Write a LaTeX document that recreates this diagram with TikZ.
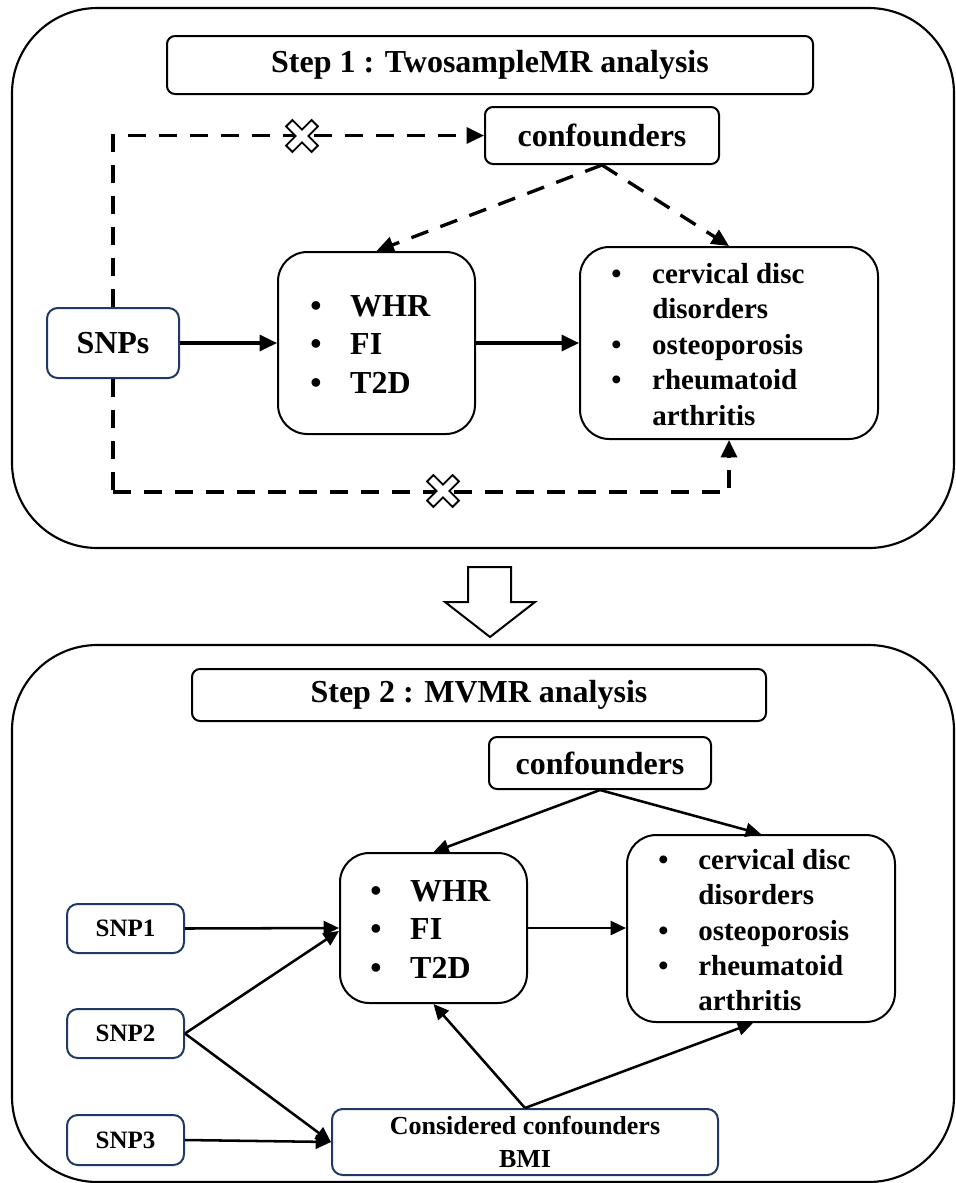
\documentclass[tikz,border=0pt]{standalone}
\usepackage{fontspec}
\setmainfont{Liberation Serif}
\usetikzlibrary{arrows.meta,fit,calc}
\definecolor{navy}{RGB}{31,56,100}
\begin{document}
\begin{tikzpicture}[x=0.75pt,y=-0.75pt,
  panel/.style={draw, line width=1.6pt, rounded corners=64pt},
  tbox/.style={draw, line width=1.5pt, rounded corners=6pt, inner sep=0pt},
  bigbox/.style={draw, line width=1.5pt, rounded corners=22pt, inner sep=0pt},
  snpbox/.style={draw=navy, line width=1.5pt, rounded corners=8pt, inner sep=0pt},
  big/.style={inner sep=0pt, font=\fontsize{24}{28}\selectfont\bfseries},
  small/.style={inner sep=0pt, font=\fontsize{18.75}{22}\selectfont\bfseries},
  listtxt/.style={inner sep=0pt, anchor=west, align=left},
  sarrow/.style={line width=2.4pt, -{Triangle[length=13pt,width=12pt]}},
  darrow/.style={line width=2.5pt, dash pattern=on 13.5pt off 9.75pt, -{Triangle[length=13pt,width=12pt]}},
  dline/.style={line width=2.5pt, dash pattern=on 13.5pt off 9.75pt},
  tarrow/.style={line width=1.9pt, -{Triangle[length=11.5pt,width=10.5pt]}},
  xmark/.pic={\draw[fill=white, line width=1.4pt, rotate=45]
     (4.5,18)--(4.5,4.5)--(18,4.5)--(18,-4.5)--(4.5,-4.5)--(4.5,-18)--(-4.5,-18)--(-4.5,-4.5)--(-18,-4.5)--(-18,4.5)--(-4.5,4.5)--(-4.5,18)--cycle;}
]
\useasboundingbox (0,0) rectangle (956,1183);

% ---------- Panel 1 ----------
\draw[panel] (12,8) rectangle (954,548);
\node[tbox, fit={(167,36)(813,94)}] (title1) {};
\node[big] (title1t) at (title1.center) {Step 1 : TwosampleMR analysis};
\node[tbox, fit={(485,107)(719,164)}] (conf1) {};
\node[big] (conf1t) at (conf1.center) {confounders};
\node[snpbox, fit={(47,308)(179,378)}] (snps) {};
\node[big] (snpst) at (snps.center) {SNPs};
\node[bigbox, fit={(278,252)(475,434)}] (whr1) {};
\node[bigbox, fit={(580,247)(878,439)}] (out1) {};
\node[listtxt, font=\fontsize{24}{28.9}\selectfont\bfseries] (list1) at (310,347)
  {\begin{tabular}{@{}p{30pt}@{}l@{}}•&WHR\\ •&FI\\ •&T2D\end{tabular}};
\node[listtxt, font=\fontsize{21.75}{26.6}\selectfont\bfseries] (list2) at (611,347)
  {\begin{tabular}{@{}p{30.75pt}@{}l@{}}•&cervical disc\\ &disorders\\ •&osteoporosis\\ •&rheumatoid\\ &arthritis\end{tabular}};

\draw[sarrow] (snps.east) -- (whr1.west);
\draw[sarrow] (whr1.east) -- (out1.west);
\draw[darrow] (snps.north) |- (conf1.west);
\draw[darrow] (conf1.south) -- (whr1.north);
\draw[darrow] (conf1.south) -- (out1.north);
\coordinate (bl) at ($(snps.south)+(0,113)$);
\draw[dline] (snps.south) -- (bl);
\draw[darrow] (bl) -| (out1.south);
\pic at (302,136) {xmark};
\pic at (443,491) {xmark};

% ---------- Down arrow ----------
\draw[line width=1.5pt, fill=white] (468,567) -- (511,567) -- (511,602) -- (535,602) -- (490,637) -- (445,602) -- (468,602) -- cycle;

% ---------- Panel 2 ----------
\draw[panel] (12,645) rectangle (954,1182);
\node[tbox, fit={(192,669)(766,721)}] (title2) {};
\node[big] (title2t) at (title2.center) {Step 2 : MVMR analysis};
\node[tbox, fit={(489,737)(711,789)}] (conf2) {};
\node[big] (conf2t) at (conf2.center) {confounders};
\node[bigbox, fit={(340,853)(527,1003)}] (whr2) {};
\node[bigbox, fit={(627,835)(895,1022)}] (out2) {};
\node[listtxt, font=\fontsize{24}{28.9}\selectfont\bfseries] (list3) at (370,932)
  {\begin{tabular}{@{}p{30pt}@{}l@{}}•&WHR\\ •&FI\\ •&T2D\end{tabular}};
\node[listtxt, font=\fontsize{21.75}{26.3}\selectfont\bfseries] (list4) at (658,933)
  {\begin{tabular}{@{}p{30pt}@{}l@{}}•&cervical disc\\ &disorders\\ •&osteoporosis\\ •&rheumatoid\\ &arthritis\end{tabular}};
\node[snpbox, fit={(67,904)(184,953)}] (snp1) {};
\node[small] (snp1t) at (snp1.center) {SNP1};
\node[snpbox, fit={(67,1009)(184,1058)}] (snp2) {};
\node[small] (snp2t) at (snp2.center) {SNP2};
\node[snpbox, fit={(67,1115)(184,1165)}] (snp3) {};
\node[small] (snp3t) at (snp3.center) {SNP3};
\node[snpbox, fit={(332,1109)(718,1175)}] (bmi) {};
\node[inner sep=0pt, align=center, font=\fontsize{19.5}{23}\selectfont\bfseries] (bmit) at (bmi.center) {Considered confounders\\[1.5pt]BMI};

\draw[tarrow] (conf2.south) -- (whr2.north);
\draw[tarrow] (conf2.south) -- (out2.north);
\draw[tarrow] (whr2.east) -- (out2.west |- whr2.east);
\draw[tarrow] (snp1.east) -- (whr2.west);
\draw[tarrow] (snp2.east) -- ($(whr2.west)+(0,3)$);
\draw[tarrow] (snp2.east) -- (bmi.west);
\draw[tarrow] (snp3.east) -- (bmi.west);
\draw[tarrow] (bmi.north) -- (whr2.south);
\draw[tarrow] (bmi.north) -- ($(out2.south)+(-8,0)$);
\end{tikzpicture}
\end{document}
